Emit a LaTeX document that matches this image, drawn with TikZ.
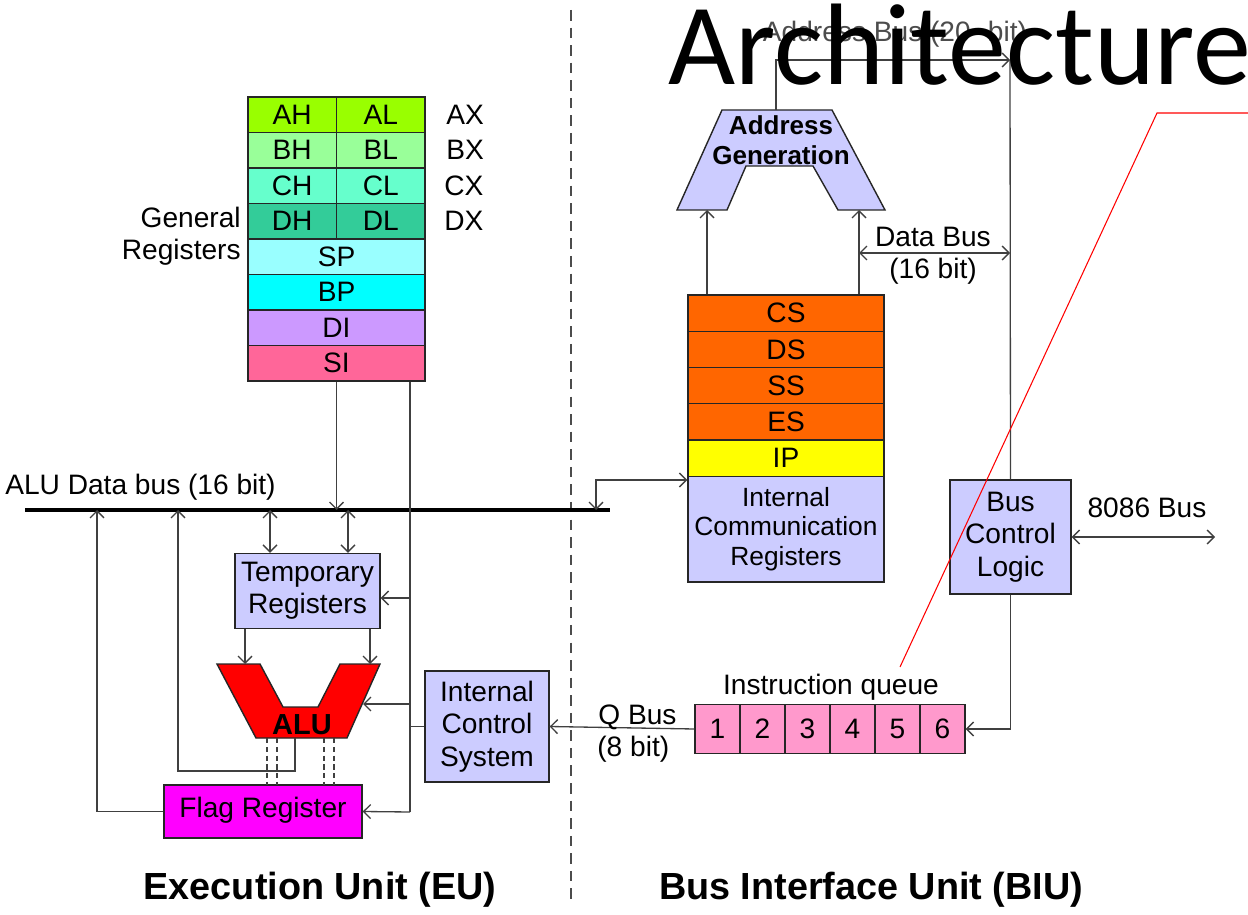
\documentclass[tikz,border=0pt]{standalone}
\usepackage{fontspec}
\setmainfont{Liberation Sans}
\newfontfamily\titlefont{Carlito}
\usetikzlibrary{arrows.meta}

\definecolor{axcol}{HTML}{99FF00}
\definecolor{bxcol}{HTML}{99FF99}
\definecolor{cxcol}{HTML}{66FFCC}
\definecolor{dxcol}{HTML}{33CC99}
\definecolor{spcol}{HTML}{99FFFF}
\definecolor{bpcol}{HTML}{00FFFF}
\definecolor{dicol}{HTML}{CC99FF}
\definecolor{sicol}{HTML}{FF6699}
\definecolor{segcol}{HTML}{FF6600}
\definecolor{ipcol}{HTML}{FFFF00}
\definecolor{boxcol}{HTML}{CCCCFF}
\definecolor{flagcol}{HTML}{FF00FF}
\definecolor{qcol}{HTML}{FF99CC}

\begin{document}
\begin{tikzpicture}[x=0.02cm, y=-0.02cm,
    every node/.style={font=\fontsize{16}{18.4}\selectfont},
    cell/.style={draw=black!85, line width=0.8pt, inner sep=0pt, align=center},
    half/.style={cell, minimum width=1.77cm, minimum height=0.71cm},
    full/.style={cell, minimum width=3.54cm, minimum height=0.71cm},
    seg/.style={cell, minimum width=3.92cm, minimum height=0.725cm},
    qcell/.style={cell, fill=qcol, minimum width=0.9cm, minimum height=0.98cm},
    wire/.style={draw=black!75, line width=0.75pt},
    arr/.style={wire, -{Straight Barb[length=4pt,width=8pt]}},
    arrs/.style={wire, {Straight Barb[length=4pt,width=8pt]}-{Straight Barb[length=4pt,width=8pt]}},
    lbl/.style={inner sep=0pt}]

    \useasboundingbox (0,0) rectangle (1248,915);

    \coordinate (D0) at (571,10);
    \coordinate (D1) at (571,900);
    \coordinate (busL) at (25,510);
    \coordinate (busR) at (610,510);
    \coordinate (tb1) at (270,510);
    \coordinate (tb2) at (348,510);
    \coordinate (fbus) at (97,510);
    \coordinate (jT) at (410,598);
    \coordinate (jA) at (410,704);
    \coordinate (jF) at (410,812);
    \coordinate (aluR) at (363,704);
    \coordinate (aluTL) at (245,664);
    \coordinate (aluTR) at (370,664);
    \coordinate (aluO) at (295,738);
    \coordinate (fbk) at (178,771);
    \coordinate (icrk) at (596,480);
    \coordinate (agL) at (707,210);
    \coordinate (agR) at (859,210);
    \coordinate (agT) at (776,110);
    \coordinate (abus) at (1010,60);
    \coordinate (dbR) at (1010,253);
    \coordinate (busout) at (1215,537);
    \coordinate (R0) at (1248,113);
    \coordinate (R1) at (1157,113);
    \coordinate (R2) at (900,667);

    % general registers
    \node [half, fill=axcol] (AH) at (292.25,114.75) {AH};
    \node [half, fill=axcol] (AL) at (380.75,114.75) {AL};
    \node [half, fill=bxcol] (BH) at (292.25,150.25) {BH};
    \node [half, fill=bxcol] (BL) at (380.75,150.25) {BL};
    \node [half, fill=cxcol] (CH) at (292.25,185.75) {CH};
    \node [half, fill=cxcol] (CL) at (380.75,185.75) {CL};
    \node [half, fill=dxcol] (DH) at (292.25,221.25) {DH};
    \node [half, fill=dxcol] (DL) at (380.75,221.25) {DL};
    \node [full, fill=spcol] (SP) at (336.5,256.75) {SP};
    \node [full, fill=bpcol] (BP) at (336.5,292.25) {BP};
    \node [full, fill=dicol] (DI) at (336.5,327.75) {DI};
    \node [full, fill=sicol] (SI) at (336.5,363.25) {SI};

    % execution unit
    \node [cell, fill=boxcol, minimum width=2.9cm, minimum height=1.5cm] (TR) at (307.5,591) {Temporary\\Registers};
    \node [cell, fill=flagcol, minimum width=3.96cm, minimum height=1.06cm] (FR) at (263,811.5) {\strut Flag Register};
    \node [cell, fill=boxcol, minimum width=2.48cm, minimum height=2.22cm] (ICS) at (487,726.5) {Internal\\Control\\System};
    \filldraw [fill=red, draw=black!85, line width=0.8pt] (217,664) -- (260,664) -- (283,707) -- (318,707)
        -- (340,664) -- (380,664) -- (347,738) -- (256,738) -- cycle;
    \node [font=\bfseries\fontsize{16.5}{18}\selectfont] (ALU) at (302,725) {ALU};

    % bus interface unit
    \node [seg, fill=segcol] (CS) at (786,313.1) {CS};
    \node [seg, fill=segcol] (DS) at (786,349.4) {DS};
    \node [seg, fill=segcol] (SS) at (786,385.6) {SS};
    \node [seg, fill=segcol] (ES) at (786,421.9) {ES};
    \node [seg, fill=ipcol] (IP) at (786,458.1) {IP};
    \node [cell, fill=boxcol, minimum width=3.92cm, minimum height=2.115cm,
        font=\fontsize{15}{17}\selectfont] (ICR) at (786,529.1) {Internal\\Communication\\Registers};
    \node [cell, fill=boxcol, minimum width=2.42cm, minimum height=2.28cm] (BCL) at (1010.5,537) {Bus\\Control\\Logic};
    \filldraw [fill=boxcol, draw=black!85, line width=0.8pt] (722,110) -- (832,110) -- (885,210) -- (838,210)
        -- (813,166) -- (746,166) -- (727,210) -- (677,210) -- cycle;
    \node [align=center, font=\bfseries\fontsize{14.8}{17}\selectfont] (AG) at (781,140) {Address\\Generation};

    \node [qcell] (Q1) at (717.5,729) {1};
    \node [qcell] (Q2) at (762.5,729) {2};
    \node [qcell] (Q3) at (807.5,729) {3};
    \node [qcell] (Q4) at (852.5,729) {4};
    \node [qcell] (Q5) at (897.5,729) {5};
    \node [qcell] (Q6) at (942.5,729) {6};

    % connectors
    \draw [black!70, line width=0.75pt, dash pattern=on 6pt off 4pt] (D0) -- (D1);
    \draw [black, line width=2.2pt] (busL) -- (busR);
    \draw [arr] (SI.south) -- (SI.south |- busL);
    \draw [wire] (SI.south -| jT) -- (jF);
    \draw [arr] (jT) -- (jT -| TR.east);
    \draw [arr] (jA) -- (aluR);
    \draw [wire] (ICS.west) -- (ICS.west -| jT);
    \draw [arr] (jF) -- (FR.east);
    \draw [arrs] (tb1) -- (tb1 |- TR.north);
    \draw [arrs] (tb2) -- (tb2 |- TR.north);
    \draw [arr] (TR.south -| aluTL) -- (aluTL);
    \draw [arr] (TR.south -| aluTR) -- (aluTR);
    \draw [arr] (aluO) |- (fbk) -- (fbk |- busL);
    \draw [arr] (FR.west) -| (fbus);
    \draw [wire, densely dashed] (267,738) -- (267,785);
    \draw [wire, densely dashed] (277,738) -- (277,785);
    \draw [wire, densely dashed] (324,738) -- (324,785);
    \draw [wire, densely dashed] (334,738) -- (334,785);

    \draw [arrs] (icrk |- busL) -- (icrk) -- (icrk -| ICR.west);
    \draw [arr] (CS.north -| agL) -- (agL);
    \draw [arr] (CS.north -| agR) -- (agR);
    \draw [arrs] (agR |- dbR) -- (dbR);
    \draw [arr] (agT) |- (abus);
    \draw [wire] (abus) -- (BCL.north);
    \draw [arrs] (BCL.east) -- (busout);
    \draw [arr] (BCL.south) |- (Q6.east);
    \draw [arr] (Q1.west) -- (ICS.east);

    % labels
    \node [lbl, anchor=west] (AXl) at (446,114.75) {AX};
    \node [lbl, anchor=west] (BXl) at (446,150.25) {BX};
    \node [lbl, anchor=west] (CXl) at (444,185.75) {CX};
    \node [lbl, anchor=west] (DXl) at (444,221.25) {DX};
    \node [lbl, anchor=east, align=right] (GRl) at (241,236) {General\\Registers};
    \node [lbl, anchor=west] (busl) at (5,487) {ALU Data bus (16 bit)};
    \node [lbl, anchor=base] (dbl1) at (933,247) {Data Bus};
    \node [lbl, anchor=base] (dbl2) at (933,279) {(16 bit)};
    \node [lbl, anchor=base] (obl) at (1147,518) {8086 Bus};
    \node [lbl, anchor=base] (iql) at (831,694) {Instruction queue};
    \node [lbl, anchor=base west] (qbl1) at (598,724) {Q Bus};
    \node [lbl, anchor=base west] (qbl2) at (597,756) {(8 bit)};
    \node [lbl, anchor=base, text=black!70] (abl) at (895,42) {Address Bus (20- bit)};
    \node [lbl, font=\bfseries\fontsize{21.5}{24}\selectfont] (EUl) at (320,890) {Execution Unit (EU)};
    \node [lbl, font=\bfseries\fontsize{21.5}{24}\selectfont] (BIUl) at (871,890) {Bus Interface Unit (BIU)};

    \draw [red, line width=0.6pt] (R0) -- (R1) -- (R2);
    \node [lbl, anchor=base west, font=\titlefont\fontsize{66}{66}\selectfont] (title) at (668,85) {Architecture};
\end{tikzpicture}
\end{document}
